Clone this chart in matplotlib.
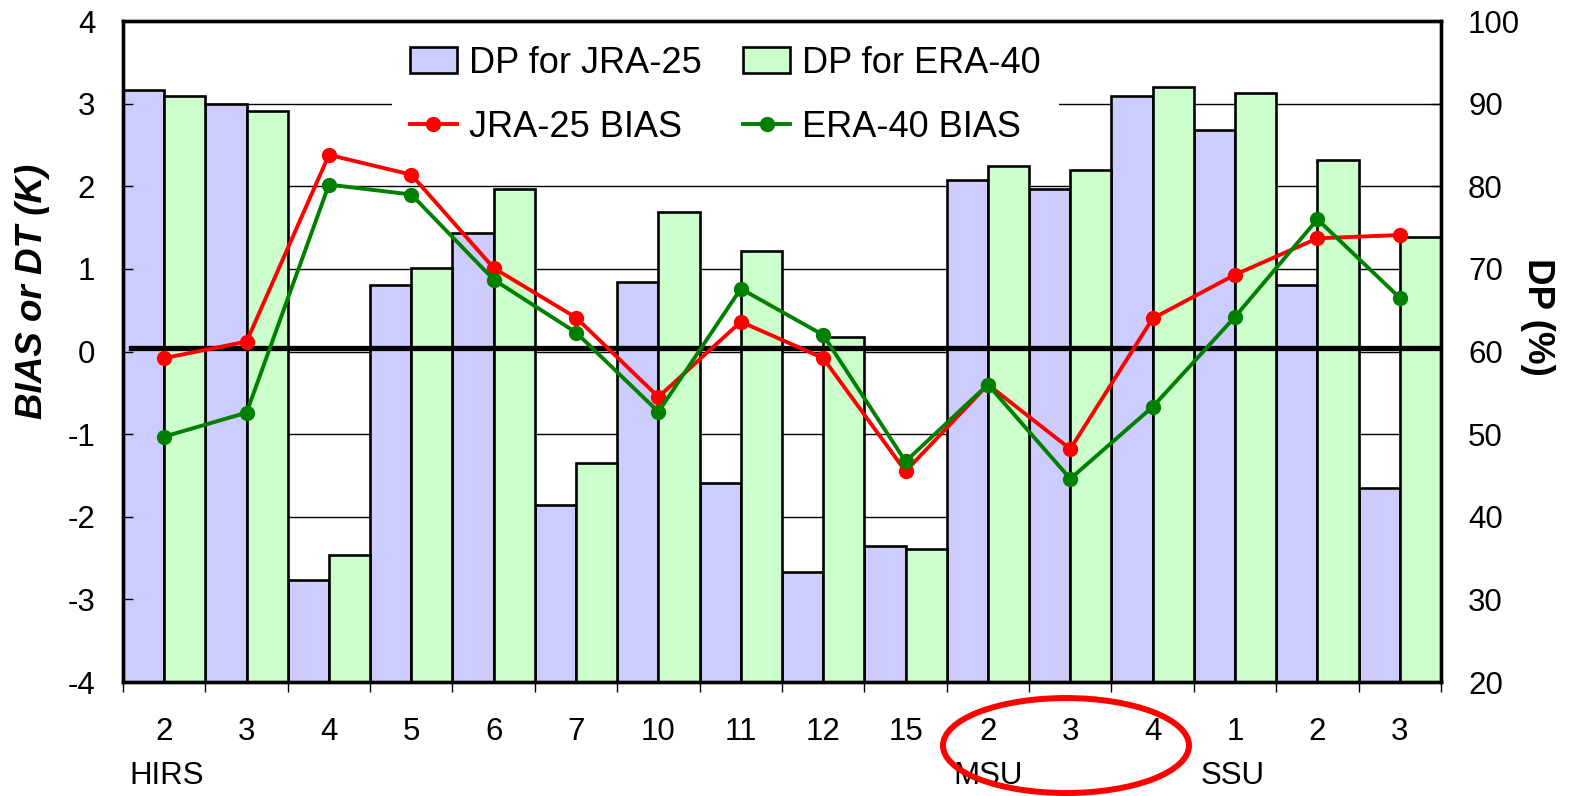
import matplotlib
import matplotlib.pyplot as plt
import numpy as np
from matplotlib.patches import Ellipse

matplotlib.use("Agg")

plt.rcParams["font.family"] = ["Liberation Sans", "DejaVu Sans"]
plt.rcParams["axes.unicode_minus"] = False

channels = ["2", "3", "4", "5", "6", "7", "10", "11", "12", "15", "2", "3", "4", "1", "2", "3"]
sensor_names = ["HIRS", "MSU", "SSU"]
sensor_start = [0, 10, 13]

dp_jra = [91.7, 89.9, 32.3, 68.0, 74.3, 41.4, 68.4, 44.1, 33.3, 36.5, 80.7, 79.7, 90.9, 86.8, 68.0, 43.5]
dp_era = [90.9, 89.1, 35.4, 70.1, 79.7, 46.5, 76.9, 72.2, 61.7, 36.1, 82.4, 82.0, 92.0, 91.3, 83.2, 73.8]

bias_jra = [-0.08, 0.12, 2.38, 2.14, 1.01, 0.41, -0.55, 0.36, -0.08, -1.45, -0.40, -1.18, 0.40, 0.93, 1.37, 1.41]
bias_era = [-1.03, -0.74, 2.02, 1.90, 0.87, 0.23, -0.73, 0.76, 0.20, -1.33, -0.40, -1.54, -0.67, 0.42, 1.60, 0.65]

n = len(channels)
centers = np.arange(n) + 0.5

fig = plt.figure(figsize=(15.69, 7.96), dpi=100)
ax = fig.add_axes([0.0784, 0.1432, 0.8400, 0.8304])

# DP bars live on the base axes (drawn first), bias lines on the twin on top
for y in range(30, 100, 10):
    ax.axhline(y, color="black", lw=1.0, zorder=0)

bars_jra = ax.bar(centers - 0.25, dp_jra, width=0.5, color="#ccccff",
                  edgecolor="black", linewidth=1.9, zorder=2)
bars_era = ax.bar(centers + 0.25, dp_era, width=0.5, color="#ccffcc",
                  edgecolor="black", linewidth=1.9, zorder=2)

ax.set_xlim(0, n)
ax.set_ylim(20, 100)

ax.set_xticks(np.arange(n + 1))
ax.set_xticklabels([])
ax.tick_params(axis="x", which="major", direction="out", length=7, width=1)
ax.set_xticks(centers, minor=True)
ax.set_xticklabels(channels, minor=True)
ax.tick_params(axis="x", which="minor", length=0, pad=25, labelsize=22.5)

for name, start in zip(sensor_names, sensor_start):
    ax.text(start + 0.08, -0.142, name, transform=ax.get_xaxis_transform(),
            ha="left", va="center", fontsize=22.5)

ax2 = ax.twinx()
# twinx puts the base axis ticks on the left; swap them back
ax.yaxis.tick_right()
ax2.yaxis.tick_left()

ax.set_yticks(np.arange(20, 101, 10))
ax.tick_params(axis="y", direction="in", length=7, width=1, pad=19.5, labelsize=22.5)

ax2.set_ylim(-4, 4)
ax2.set_yticks(np.arange(-4, 5, 1))
ax2.tick_params(axis="y", direction="in", length=7, width=1, pad=20, labelsize=22.5)

ax2.axhline(0.045, xmin=0.006, xmax=1, color="black", lw=3.8, zorder=1)

line_jra, = ax2.plot(centers, bias_jra, "-o", color="#ff0000", lw=2.8, ms=10,
                     zorder=3)
line_era, = ax2.plot(centers, bias_era, "-o", color="#008000", lw=2.8, ms=10,
                     zorder=4)

for a in (ax, ax2):
    for side in a.spines.values():
        side.set_linewidth(2.4)

leg = ax2.legend([bars_jra, line_jra, bars_era, line_era],
                 ["DP for JRA-25", "JRA-25 BIAS", "DP for ERA-40", "ERA-40 BIAS"],
                 ncol=2, loc="upper left", bbox_to_anchor=(0.204, 0.99),
                 fontsize=26, frameon=True, fancybox=False, borderpad=0.5,
                 handlelength=1.3, handletextpad=0.33, columnspacing=1.15,
                 labelspacing=0.8, borderaxespad=0)
leg.get_frame().set_facecolor("white")
leg.get_frame().set_edgecolor("none")
leg.get_frame().set_alpha(1)

fig.text(0.0204, 0.6338, "BIAS or DT (K)", rotation=90, ha="center", va="center",
         fontsize=26.5, fontweight="bold", fontstyle="italic")
fig.text(0.980, 0.6018, "DP (%)", rotation=270, ha="center", va="center",
         fontsize=26.5, fontweight="bold")

fig.add_artist(Ellipse((0.6794, 0.0634), 0.1568, 0.1193, transform=fig.transFigure,
                       fill=False, edgecolor="#ff0000", linewidth=4.3))

fig.savefig("out.png", dpi=100)
plt.close(fig)
